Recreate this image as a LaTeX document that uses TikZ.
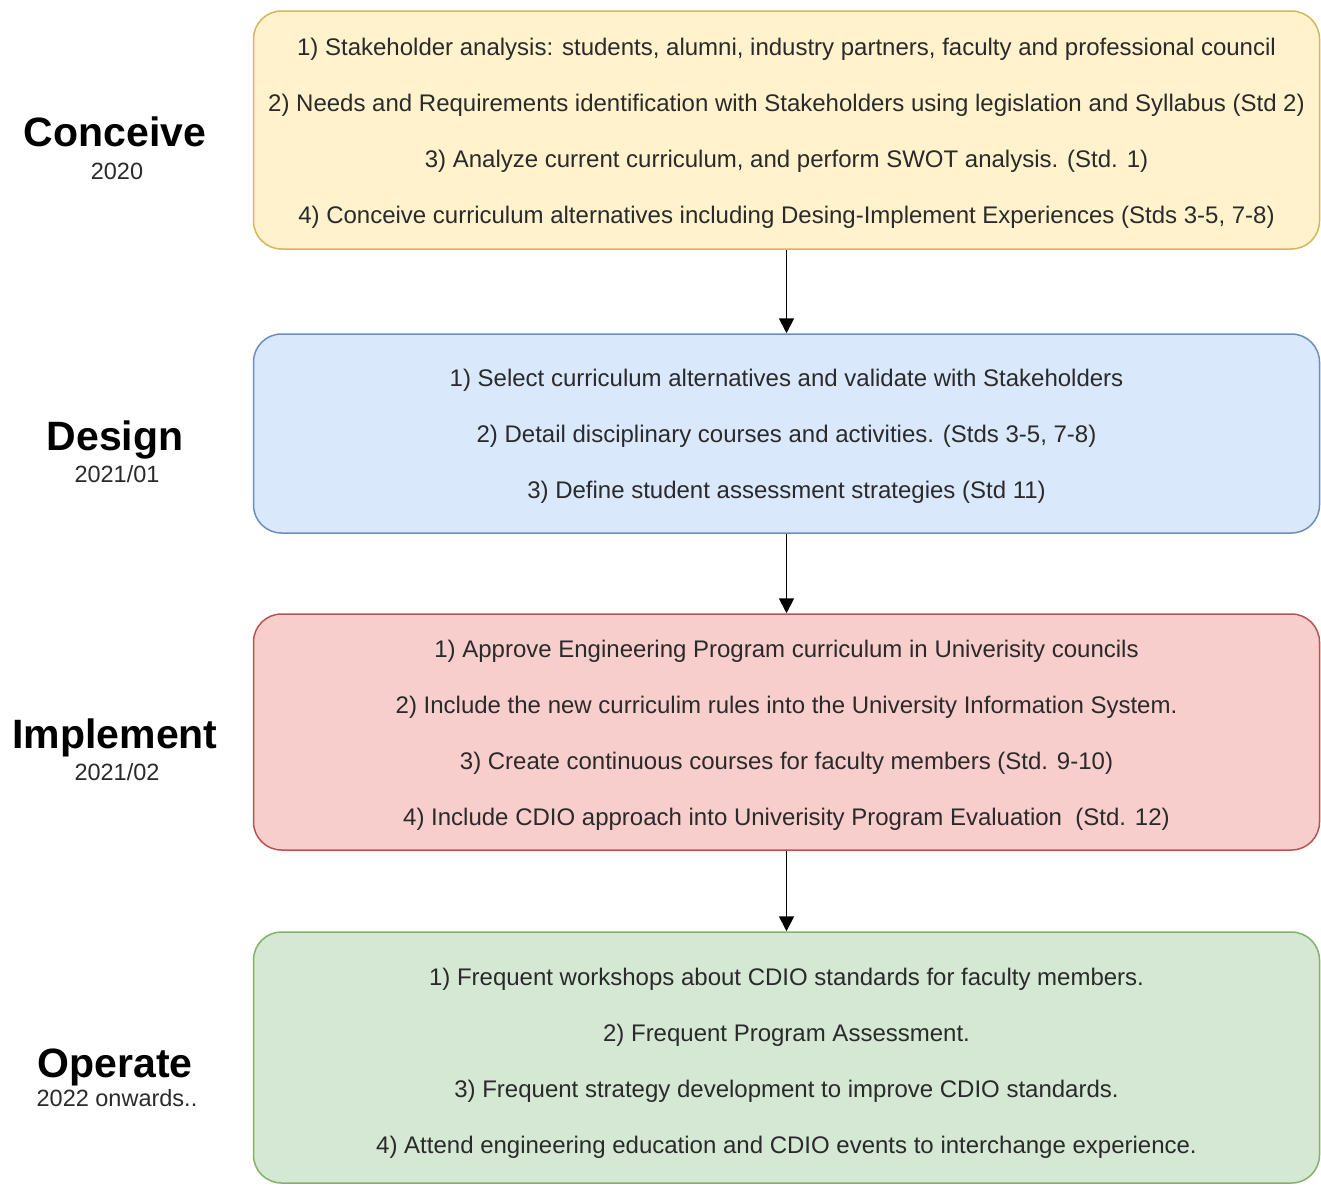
\documentclass[tikz,border=0pt]{standalone}
\usepackage{fontspec}
\setmainfont{Liberation Sans}
\usetikzlibrary{arrows.meta}
\definecolor{txt}{HTML}{2A2A2A}
\definecolor{yf}{HTML}{FFF2CC}\definecolor{yd}{HTML}{D6B656}
\definecolor{bf}{HTML}{DAE8FC}\definecolor{bd}{HTML}{6C8EBF}
\definecolor{rf}{HTML}{F8CECC}\definecolor{rd}{HTML}{B85450}
\definecolor{gf}{HTML}{D5E8D4}\definecolor{gd}{HTML}{82B366}
\begin{document}
\begin{tikzpicture}[x=1pt,y=-1pt,
  phasebox/.style={rounded corners=28pt, line width=1.5pt, minimum width=1066pt, inner sep=0pt},
  phasetext/.style={align=center, text=txt, inner sep=0pt, font=\fontsize{24}{56}\selectfont},
  phasetitle/.style={anchor=base, font=\bfseries\fontsize{41}{48}\selectfont, text=black, inner sep=0pt},
  phaseyear/.style={anchor=base, font=\fontsize{23.5}{28}\selectfont, text=txt, inner sep=0pt},
  arr/.style={line width=1.8pt, draw=black, -{Triangle[length=15pt,width=15pt]}}]
\useasboundingbox (0,0) rectangle (1321,1186);
\node[phasebox, fill=yf, draw=yd, minimum height=238pt] (c) at (786.5,130) {};
\node[phasetext] (ctx) at ([yshift=-3pt]c.center) {1) Stakeholder analysis: students, alumni, industry partners, faculty and professional council\\2) Needs and Requirements identification with Stakeholders using legislation and Syllabus (Std 2)\\3) Analyze current curriculum, and perform SWOT analysis. (Std. 1)\\4) Conceive curriculum alternatives including Desing-Implement Experiences (Stds 3-5, 7-8)};
\node[phasebox, fill=bf, draw=bd, minimum height=199pt] (d) at (786.5,433.5) {};
\node[phasetext] (dtx) at ([yshift=-3pt]d.center) {1) Select curriculum alternatives and validate with Stakeholders\\2) Detail disciplinary courses and activities. (Stds 3-5, 7-8)\\3) Define student assessment strategies (Std 11)};
\node[phasebox, fill=rf, draw=rd, minimum height=236pt] (i) at (786.5,732) {};
\node[phasetext] (itx) at ([yshift=-3pt]i.center) {1) Approve Engineering Program curriculum in Univerisity councils\\2) Include the new curriculim rules into the University Information System.\\3) Create continuous courses for faculty members (Std. 9-10)\\4) Include CDIO approach into Univerisity Program Evaluation\ \ (Std. 12)};
\node[phasebox, fill=gf, draw=gd, minimum height=251pt] (o) at (786.5,1057.5) {};
\node[phasetext] (otx) at ([yshift=-6pt]o.center) {1) Frequent workshops about CDIO standards for faculty members.\\2) Frequent Program Assessment.\\3) Frequent strategy development to improve CDIO standards.\\4) Attend engineering education and CDIO events to interchange experience.};
\draw[arr] (c.south) -- (d.north);
\draw[arr] (d.south) -- (i.north);
\draw[arr] (i.south) -- (o.north);
\node[phasetitle] (ct) at (115,146) {Conceive};
\node[phaseyear] (cy) at (117,179) {2020};
\node[phasetitle] (dt) at (115,450) {Design};
\node[phaseyear] (dy) at (117,482) {2021/01};
\node[phasetitle] (it) at (115,748) {Implement};
\node[phaseyear] (iy) at (117,780) {2021/02};
\node[phasetitle] (ot) at (115,1077) {Operate};
\node[phaseyear] (oy) at (117,1106) {2022 onwards..};
\end{tikzpicture}
\end{document}
